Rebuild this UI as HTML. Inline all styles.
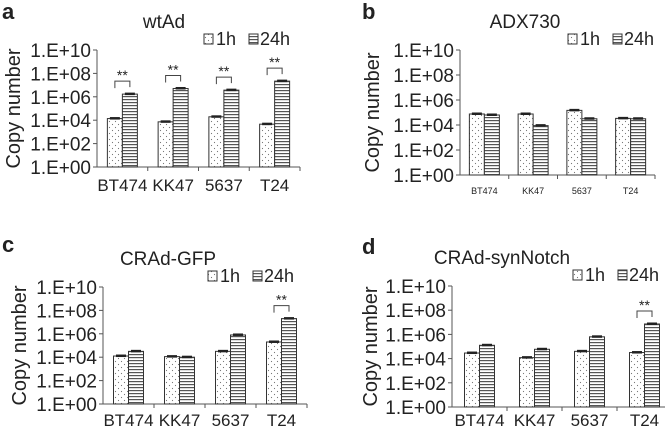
<!DOCTYPE html>
<html><head><meta charset="utf-8"><style>
body{margin:0;background:#fff;width:665px;height:430px;overflow:hidden}
svg text{font-family:"Liberation Sans",Arial,sans-serif;fill:#222}
</style></head><body>
<svg id="fig" width="665" height="430" viewBox="0 0 665 430" xmlns="http://www.w3.org/2000/svg">
<defs>
<pattern id="dots" width="6" height="6" patternUnits="userSpaceOnUse"><rect width="6" height="6" fill="#fff"/><circle cx="1.5" cy="1.5" r="0.6" fill="#777"/><circle cx="4.5" cy="4.5" r="0.6" fill="#777"/></pattern>
<pattern id="hlines" width="4" height="3" patternUnits="userSpaceOnUse"><rect width="4" height="3" fill="#fff"/><rect y="0" width="4" height="1.2" fill="#555"/></pattern>
</defs>
</svg>
<script>
const categories = ["BT474","KK47","5637","T24"];
const tickLabels = ["1.E+00","1.E+02","1.E+04","1.E+06","1.E+08","1.E+10"];
// log10 copy numbers
const wtAd1h = [4.14,3.86,4.29,3.66];
const wtAd24h = [6.23,6.71,6.57,7.34];
const wtAdSig = [true,true,true,true];
const adx1h = [4.88,4.88,5.17,4.53];
const adx24h = [4.8,3.95,4.5,4.5];
const adxSig = [false,false,false,false];
const gfp1h = [4.1,4.05,4.5,5.3];
const gfp24h = [4.5,4.0,5.9,7.3];
const gfpSig = [false,false,false,true];
const syn1h = [4.46,4.08,4.6,4.5];
const syn24h = [5.1,4.77,5.8,6.86];
const synSig = [false,false,false,true];

const svg = document.getElementById('fig');
const NS = "http://www.w3.org/2000/svg";
function mk(tag, attrs, parent, text){
  const e = document.createElementNS(NS, tag);
  for (const k in attrs) e.setAttribute(k, attrs[k]);
  if (text !== undefined) e.textContent = text;
  (parent||svg).appendChild(e);
  return e;
}
function txt(x, y, size, anchor, parent, s, extra){
  return mk('text', Object.assign({x:x,y:y,'font-size':size,'text-anchor':anchor}, extra||{}), parent, s);
}
function panel(p){
  const g = mk('g',{});
  
  
  const yS = v => p.bottom - (v/10)*(p.bottom-p.top);
  const cw = (p.right - p.x0)/categories.length;
  const xC = i => p.x0 + cw*(i+0.5);
  let t = txt(p.lx,p.ly,22,'start',g,p.letter,{'font-weight':'bold'});
  
  
  t = txt(p.tx,p.top-22,19,'middle',g,p.title);
  
  
  // legend
  const lg = mk('g',{},g);
  
  
  const lx = p.legX, ly = p.top-5;
  mk('rect',{x:lx,y:ly-11,width:9,height:10,fill:'url(#dots)',stroke:'#333','stroke-width':1},lg);
  txt(lx+12,ly,18,'start',lg,'1h');
  mk('rect',{x:lx+45,y:ly-11,width:9,height:10,fill:'url(#hlines)',stroke:'#333','stroke-width':1},lg);
  txt(lx+56,ly,18,'start',lg,'24h');
  // y axis
  let a = mk('line',{x1:p.x0,y1:p.top,x2:p.x0,y2:p.bottom,stroke:'#555','stroke-width':1},g);
  
  
  tickLabels.forEach((lab,i)=>{
    const y = yS(i*2);
    mk('line',{x1:p.x0-4,y1:y,x2:p.x0,y2:y,stroke:'#555'},g);
    const tt = txt(p.x0-6,y+7,19,'end',g,lab);
    
    
  });
  t = mk('text',{x:0,y:0,'font-size':20,'text-anchor':'middle',transform:`translate(${p.yt},${(p.top+p.bottom)/2}) rotate(-90)`},g,'Copy number');
  
  
  a = mk('line',{x1:p.x0,y1:p.bottom,x2:p.right,y2:p.bottom,stroke:'#555'},g);
  
  
  categories.forEach((c,i)=>{
    const xt = p.x0 + cw*(i+1);
    mk('line',{x1:xt,y1:p.bottom,x2:xt,y2:p.bottom+4,stroke:'#555'},g);
    const tt = p.small ? txt(xC(i),p.bottom+19,9,'middle',g,c)
                       : txt(xC(i),p.bottom+p.lo,17,'middle',g,c);
    
    
    const bw = 15;
    const v1 = p.d1[i], v2 = p.d2[i];
    const b1 = mk('rect',{x:xC(i)-bw,y:yS(v1),width:bw,height:p.bottom-yS(v1),fill:'url(#dots)',stroke:'#333','stroke-width':1},g);
    
    
    const b2 = mk('rect',{x:xC(i),y:yS(v2),width:bw,height:p.bottom-yS(v2),fill:'url(#hlines)',stroke:'#333','stroke-width':1},g);
    
    
    [[xC(i)-bw/2,v1],[xC(i)+bw/2,v2]].forEach(([x,v])=>{
      const e = mk('rect',{x:x-5,y:yS(v)-1.5,width:10,height:2.5,fill:'#222'},g);
      
      
    });
    if (p.sig[i]){
      const top = yS(Math.max(v1,v2)) - 13;
      const s = mk('path',{d:`M${xC(i)-bw/2},${top+7} V${top} H${xC(i)+bw/2} V${top+6}`,fill:'none',stroke:'#444','stroke-width':1},g);
      
      
      const st = txt(xC(i),top-1,14,'middle',g,'**');
      
      
    }
  });
}
panel({letter:'a',title:'wtAd',tx:164,lx:2,ly:19,x0:97,right:300,top:50,bottom:167,yt:20,lo:24,legX:204,d1:wtAd1h,d2:wtAd24h,sig:wtAdSig});
panel({letter:'b',title:'ADX730',tx:525,lx:362,ly:19,x0:460,right:655,top:50,bottom:175,yt:379,lo:24,legX:568,d1:adx1h,d2:adx24h,sig:adxSig,small:true});
panel({letter:'c',title:'CRAd-GFP',tx:168,lx:2,ly:252,x0:103,right:307,top:287,bottom:404,yt:26,lo:22,legX:208,d1:gfp1h,d2:gfp24h,sig:gfpSig});
panel({letter:'d',title:'CRAd-synNotch',tx:502,lx:362,ly:254,x0:452,right:672,top:286,bottom:407,yt:377,lo:19,legX:573,d1:syn1h,d2:syn24h,sig:synSig});
</script>
</body></html>
